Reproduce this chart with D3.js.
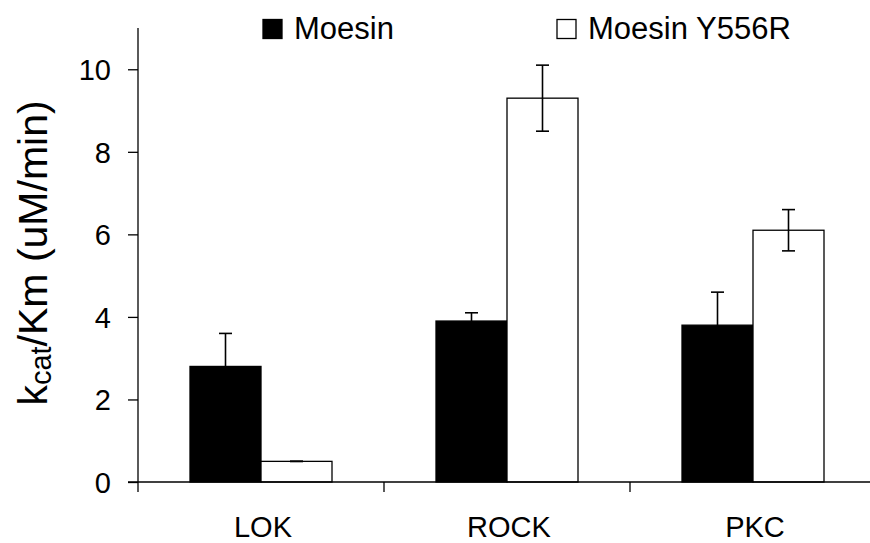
<!DOCTYPE html>
<html>
<head>
<meta charset="utf-8">
<script src="https://cdn.jsdelivr.net/npm/d3@7"></script>
<style>
  body { margin: 0; background: white; }
  text { font-family: "Liberation Sans", Arial, sans-serif; fill: black; }
</style>
</head>
<body>
<div id="chart"></div>
<script>
// data
const categories = ["LOK", "ROCK", "PKC"];
const series = ["Moesin", "Moesin Y556R"];
const moesin = [2.8, 3.9, 3.8];
const moesinErr = [0.8, 0.2, 0.8];
const mutant = [0.5, 9.3, 6.1];
const mutantErr = [0.0, 0.8, 0.5];
const yTicks = [0, 2, 4, 6, 8, 10];

const width = 870, height = 543;
const margin = {top: 28, left: 138, bottom: 61};

const svg = d3.select("#chart").append("svg")
  .attr("width", width)
  .attr("height", height);

// x scale runs one band past the right edge, as in the original
const x = d3.scaleBand()
  .domain(categories)
  .range([margin.left, margin.left + 3 * 246]);

const xSub = d3.scaleBand()
  .domain(series)
  .range([-71, 71]);

const y = d3.scaleLinear()
  .domain([0, 11])
  .range([height - margin.bottom, margin.top]);

const colors = {"Moesin": "black", "Moesin Y556R": "white"};

// flatten into rows
const rows = [];
categories.forEach((c, i) => {
  rows.push({cat: c, s: "Moesin", v: moesin[i], e: moesinErr[i]});
  rows.push({cat: c, s: "Moesin Y556R", v: mutant[i], e: mutantErr[i]});
});
const cx = d => x(d.cat) + x.bandwidth() / 2 + xSub(d.s);

// bars
svg.append("g").selectAll("rect")
  .data(rows)
  .enter().append("rect")
    .attr("x", d => cx(d))
    .attr("y", d => y(d.v))
    .attr("width", xSub.bandwidth())
    .attr("height", d => y(0) - y(d.v))
    .attr("fill", d => colors[d.s])
    .attr("stroke", "black")
    .attr("stroke-width", 1.3);

// error bars
const eb = svg.append("g")
  .attr("stroke", "black")
  .attr("stroke-width", 1.6);
rows.forEach(d => {
  const mx = cx(d) + xSub.bandwidth() / 2;
  eb.append("line").attr("x1", mx).attr("x2", mx)
    .attr("y1", y(d.v - d.e)).attr("y2", y(d.v + d.e));
  [d.v - d.e, d.v + d.e].forEach(val => {
    eb.append("line").attr("x1", mx - 6.5).attr("x2", mx + 6.5)
      .attr("y1", y(val)).attr("y2", y(val));
  });
});

// y axis
const yAxis = svg.append("g")
  .attr("transform", `translate(${margin.left},0)`)
  .call(d3.axisLeft(y).tickValues(yTicks).tickSize(10).tickPadding(17));
yAxis.select(".domain").remove();
yAxis.append("line")
  .attr("x1", 0).attr("x2", 0)
  .attr("y1", margin.top).attr("y2", y(0) + 10)
  .attr("stroke", "black").attr("stroke-width", 1.3);
yAxis.selectAll(".tick line").attr("stroke-width", 1.3);
yAxis.selectAll("text")
  .style("font-size", "29px")
  .attr("dy", "0.36em");

// x axis
const xAxis = svg.append("g")
  .attr("transform", `translate(0,${y(0)})`);
xAxis.append("line")
  .attr("x1", margin.left - 10).attr("x2", width)
  .attr("stroke", "black").attr("stroke-width", 1.3);
xAxis.selectAll(".sep")
  .data(categories.slice(1))
  .enter().append("line")
    .attr("x1", d => x(d)).attr("x2", d => x(d))
    .attr("y1", 0).attr("y2", 10)
    .attr("stroke", "black").attr("stroke-width", 1.3);
xAxis.selectAll(".lbl")
  .data(categories)
  .enter().append("text")
    .attr("x", d => x(d) + x.bandwidth() / 2 + 2)
    .attr("y", 55)
    .attr("text-anchor", "middle")
    .style("font-size", "29px")
    .text(d => d);

// y axis title
const title = svg.append("text")
  .attr("transform", "translate(47,253) rotate(-90)")
  .attr("text-anchor", "middle")
  .style("font-size", "41px");
title.append("tspan").text("k");
title.append("tspan").attr("dy", 4).style("font-size", "29px").text("cat");
title.append("tspan").attr("dy", -4).text("/Km (uM/min)");

// legend
const legendX = [263, 557];
series.forEach((s, i) => {
  svg.append("rect")
    .attr("x", legendX[i]).attr("y", 19.5)
    .attr("width", 19).attr("height", 19)
    .attr("fill", colors[s])
    .attr("stroke", "black").attr("stroke-width", 1.3);
  svg.append("text")
    .attr("x", legendX[i] + 31).attr("y", 38.5)
    .style("font-size", "31px")
    .text(s);
});
</script>
</body>
</html>
